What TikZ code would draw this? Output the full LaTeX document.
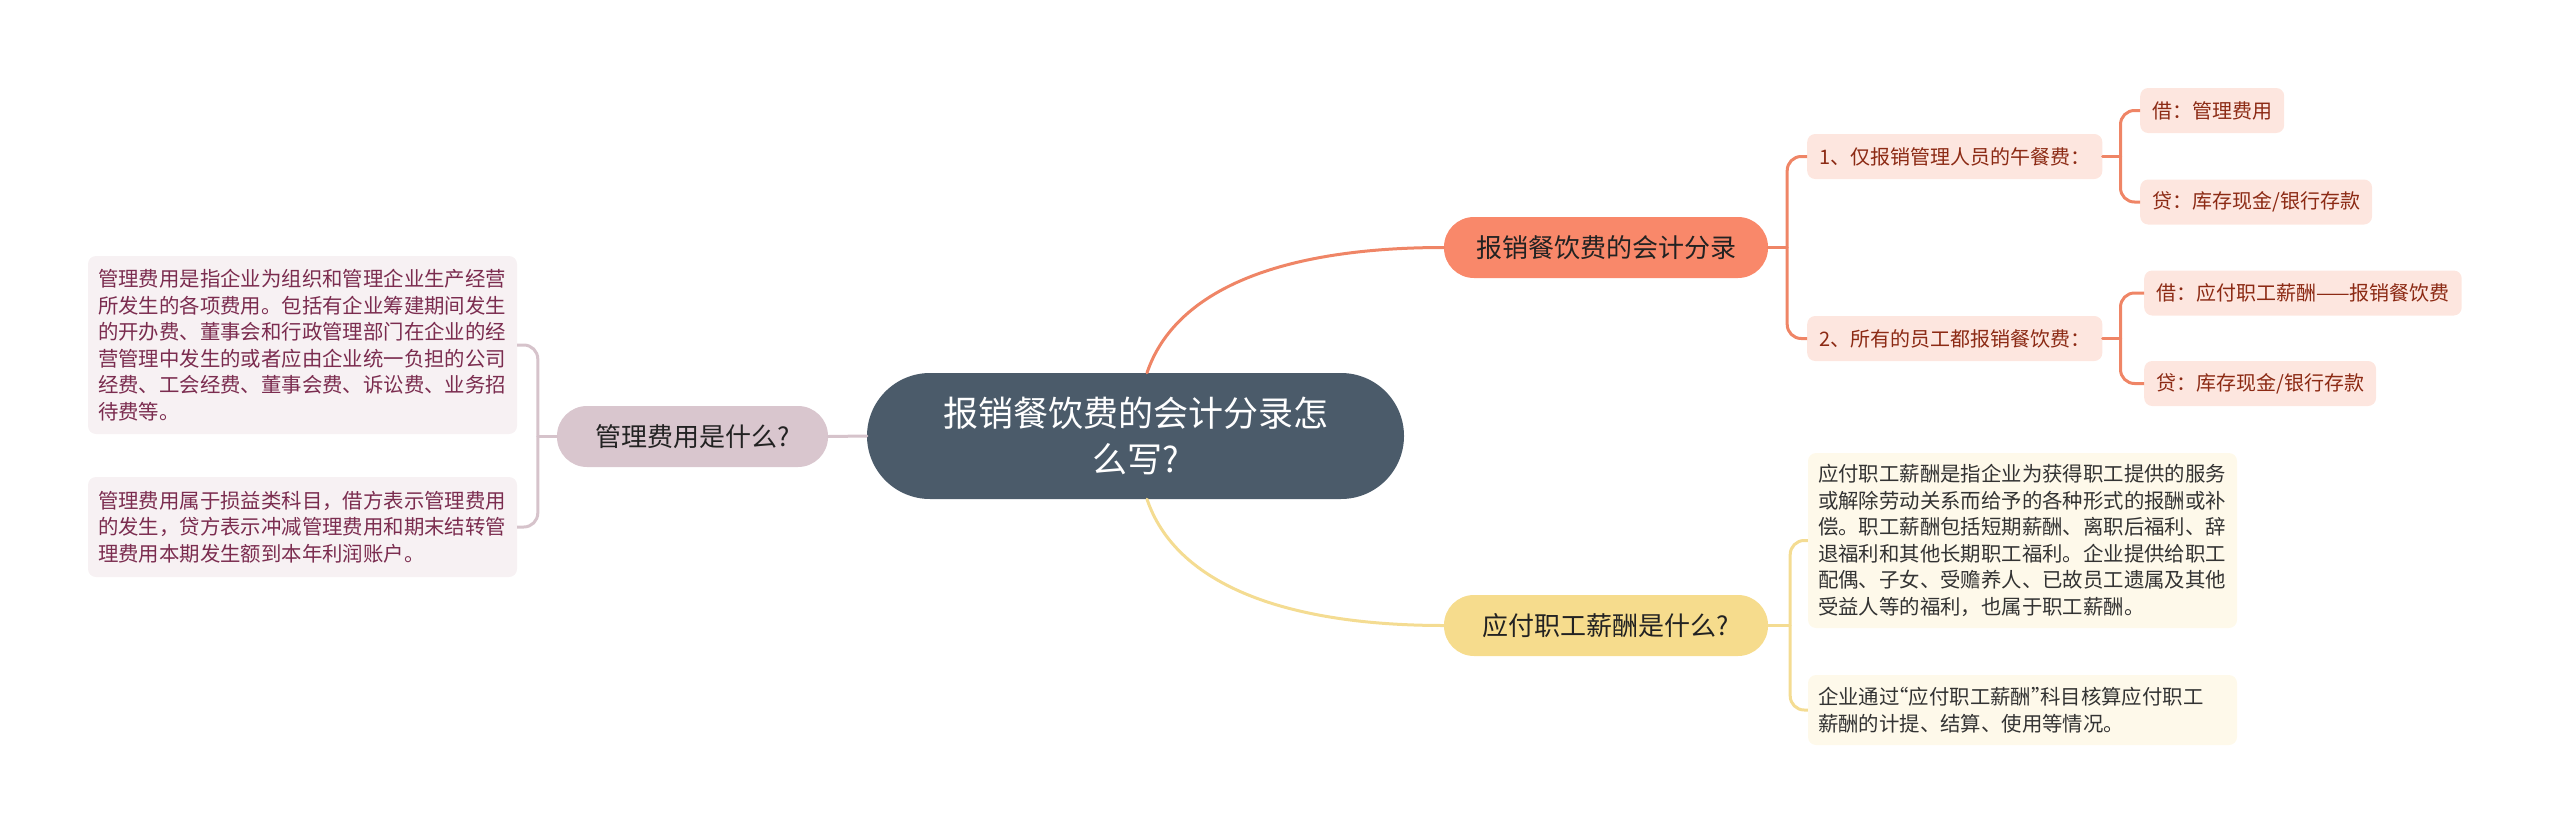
\documentclass[tikz,border=0pt]{standalone}
\usepackage{fontspec}
\setmainfont{Noto Sans CJK SC}
\definecolor{rootc}{HTML}{4B5B6A}
\definecolor{orfill}{HTML}{F9886A}
\definecolor{orline}{HTML}{EF8566}
\definecolor{subfill}{HTML}{FDE6DF}
\definecolor{subtext}{HTML}{8C2A14}
\definecolor{mvfill}{HTML}{D9C6CE}
\definecolor{mvline}{HTML}{D6C3CB}
\definecolor{lnfill}{HTML}{F7F1F3}
\definecolor{lntext}{HTML}{7B2C4F}
\definecolor{ylfill}{HTML}{F6DC8D}
\definecolor{ylline}{HTML}{F4DC92}
\definecolor{rnfill}{HTML}{FEF9EA}
\definecolor{rntext}{HTML}{333333}
\definecolor{textdark}{HTML}{222222}
\begin{document}
\begin{tikzpicture}[x=1pt,y=-1pt,
  rootnode/.style={rectangle, rounded corners=63pt, fill=rootc, minimum width=537pt, minimum height=126pt, text=white, font=\fontsize{35}{46}\selectfont, align=center, inner sep=0pt},
  branch/.style={rectangle, rounded corners=30pt, minimum width=324pt, minimum height=61pt, font=\fontsize{26}{30}\selectfont, text=textdark, inner sep=0pt},
  subnode/.style={rectangle, rounded corners=8pt, fill=subfill, text=subtext, minimum height=45pt, inner xsep=12pt, inner ysep=0pt, anchor=west, font=\fontsize{20}{24}\selectfont},
  note/.style={rectangle, rounded corners=8pt, minimum width=429pt, text width=409pt, align=left, inner xsep=10pt, inner ysep=0pt, font=\fontsize{20.4}{26.5}\selectfont},
  lnote/.style={note, fill=lnfill, text=lntext},
  rnote/.style={note, fill=rnfill, text=rntext},
  conn/.style={line width=3pt, line cap=round},
  brk/.style={line width=3pt, rounded corners=14pt}
]
\useasboundingbox (0,0) rectangle (2560,835);

% nodes
\node[rootnode] (root) at (1135.5,436) {报销餐饮费的会计分录怎\\么写?};
\node[branch, fill=orfill] (orb) at (1606,247.5) {报销餐饮费的会计分录};
\node[branch, fill=ylfill] (ylb) at (1606,625.5) {应付职工薪酬是什么?};
\node[branch, fill=mvfill, minimum width=271pt] (mvb) at (692.5,436.5) {管理费用是什么?};

\node[subnode] (subA) at (1807,156.5) {1、仅报销管理人员的午餐费：};
\node[subnode] (subB) at (1807,338.5) {2、所有的员工都报销餐饮费：};
\node[subnode] (leafA1) at (2140,110.5) {借：管理费用};
\node[subnode] (leafA2) at (2140,202) {贷：库存现金/银行存款};
\node[subnode] (leafB1) at (2144,293) {借：应付职工薪酬——报销餐饮费};
\node[subnode] (leafB2) at (2144,383.5) {贷：库存现金/银行存款};

\node[lnote, minimum height=178pt] (lbox1) at (302.5,345) {管理费用是指企业为组织和管理企业生产经营\\所发生的各项费用。包括有企业筹建期间发生\\的开办费、董事会和行政管理部门在企业的经\\营管理中发生的或者应由企业统一负担的公司\\经费、工会经费、董事会费、诉讼费、业务招\\待费等。};
\node[lnote, minimum height=100pt] (lbox2) at (302.5,527) {管理费用属于损益类科目，借方表示管理费用\\的发生，贷方表示冲减管理费用和期末结转管\\理费用本期发生额到本年利润账户。};

\node[rnote, minimum height=175pt] (rbox1) at (2022.5,540.5) {应付职工薪酬是指企业为获得职工提供的服务\\或解除劳动关系而给予的各种形式的报酬或补\\偿。职工薪酬包括短期薪酬、离职后福利、辞\\退福利和其他长期职工福利。企业提供给职工\\配偶、子女、受赡养人、已故员工遗属及其他\\受益人等的福利，也属于职工薪酬。};
\node[rnote, minimum height=70pt] (rbox2) at (2022.5,710) {企业通过\kern-0.55em“应付职工薪酬”\kern-0.55em科目核算应付职工\\薪酬的计提、结算、使用等情况。};

% junction coordinates
\coordinate (lj) at ([xshift=-19pt]mvb.west);
\coordinate (oj) at ([xshift=19pt]orb.east);
\coordinate (yj) at ([xshift=22pt]ylb.east);
\coordinate (aj) at ([xshift=18pt]subA.east);
\coordinate (bj) at ([xshift=18pt]subB.east);
\coordinate (rtop) at ([xshift=11.5pt]root.north);
\coordinate (rbot) at ([xshift=11.5pt]root.south);

% connectors
\draw[conn, orline] (rtop) .. controls (1175,290) and (1280,247.5) .. (orb.west);
\draw[conn, ylline] (rbot) .. controls (1175,582) and (1280,625.5) .. (ylb.west);
\draw[conn, mvline] (root.west) -- (mvb.east);

\draw[conn, mvline] (mvb.west) -- (lj);
\draw[brk, mvline] (lbox1.east) -| (lj) |- (lbox2.east);

\draw[conn, orline] (orb.east) -- (oj);
\draw[brk, orline] (subA.west) -| (oj) |- (subB.west);
\draw[conn, orline] (subA.east) -- (aj);
\draw[brk, orline] (leafA1.west) -| (aj) |- (leafA2.west);
\draw[conn, orline] (subB.east) -- (bj);
\draw[brk, orline] (leafB1.west) -| (bj) |- (leafB2.west);

\draw[conn, ylline] (ylb.east) -- (yj);
\draw[brk, ylline] (rbox1.west) -| (yj) |- (rbox2.west);
\end{tikzpicture}
\end{document}
